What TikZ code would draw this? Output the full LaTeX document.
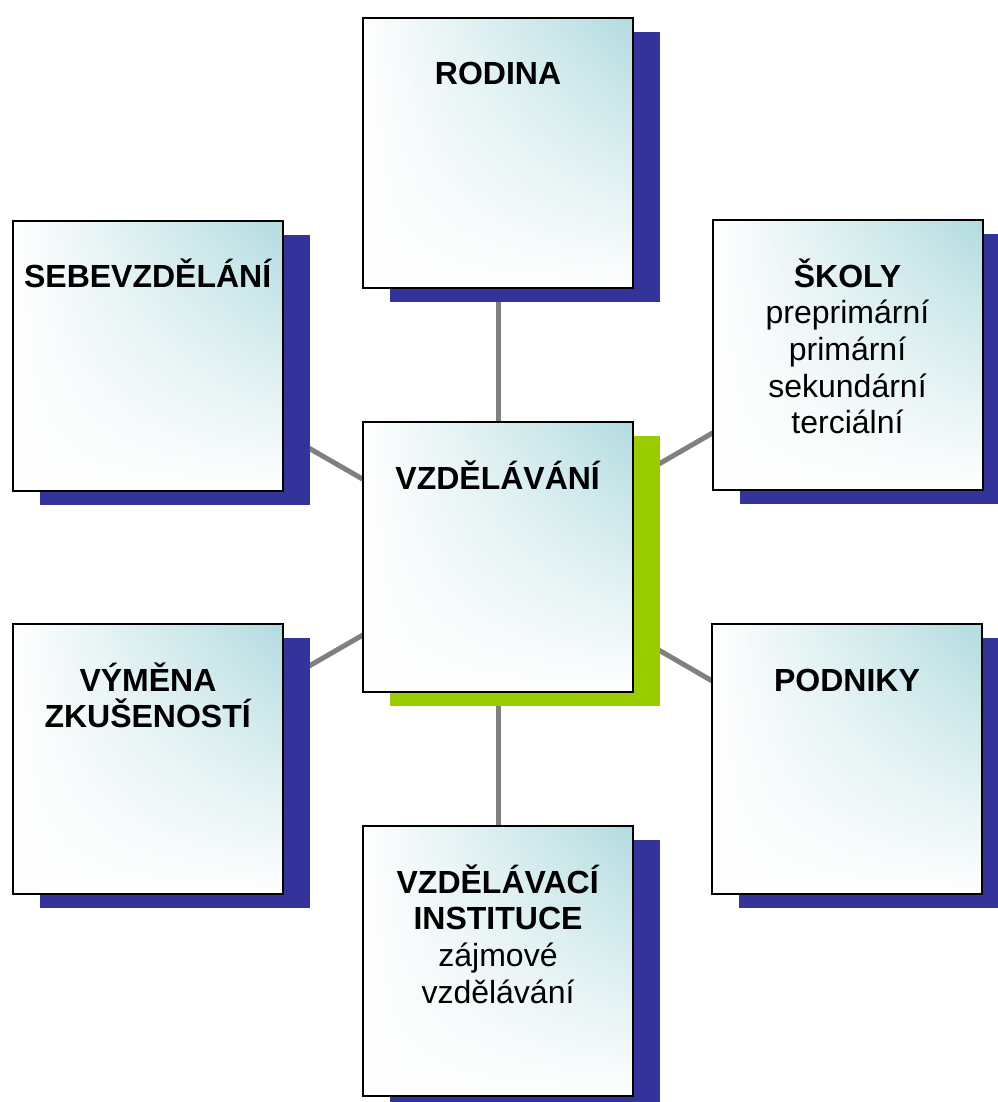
\documentclass[tikz,border=0pt]{standalone}
\usepackage{fontspec}
\setmainfont{Liberation Sans}
\usetikzlibrary{shadows,fadings,backgrounds}
\definecolor{stinmodra}{RGB}{51,51,153}
\definecolor{stinzelena}{RGB}{153,204,0}
\definecolor{tyrkys}{RGB}{178,220,224}
\definecolor{spojka}{RGB}{128,128,128}
\tikzfading[name=dolu, top color=transparent!0, bottom color=transparent!100]
\begin{document}
\begin{tikzpicture}[x=0.75pt, y=-0.75pt,
	box/.style={rectangle, draw=black, line width=1.5pt, inner sep=0pt,
		minimum width=202.5pt, minimum height=202.5pt,
		drop shadow={shadow xshift=20.25pt, shadow yshift=-10.5pt, fill=#1, opacity=1},
		preaction={fill=white},
		preaction={left color=white, right color=tyrkys, path fading=dolu}},
	box/.default=stinmodra,
	popis/.style={anchor=base, text width=195pt, align=center, inner sep=0pt,
		font=\fontsize{24}{27.5}\selectfont},
	spoj/.style={draw=spojka, line width=3.75pt}]
\clip (0,0) rectangle (998,1102);
\useasboundingbox (0,0) rectangle (998,1102);
% Kasty:
	\node[box] (rodina) at (498,153) {};
	\node[box=stinzelena] (vzd) at (498,557) {};
	\node[box] (sebe) at (148,355.5) {};
	\node[box] (skoly) at (847.5,355) {};
	\node[box] (vymena) at (148,759) {};
	\node[box] (podniky) at (847,759) {};
	\node[box] (instituce) at (498,961) {};
% Texty:
	\node[popis] (rodina-t) at ([yshift=-51pt]rodina.north) {\textbf{RODINA}};
	\node[popis] (vzd-t) at ([yshift=-51pt]vzd.north) {\textbf{VZDĚLÁVÁNÍ}};
	\node[popis] (sebe-t) at ([yshift=-51pt]sebe.north) {\textbf{SEBEVZDĚLÁNÍ}};
	\node[popis] (skoly-t) at ([yshift=-51pt]skoly.north) {\textbf{ŠKOLY}\\ preprimární\\ primární\\ sekundární\\ terciální};
	\node[popis] (vymena-t) at ([yshift=-51pt]vymena.north) {\textbf{VÝMĚNA}\\ \textbf{ZKUŠENOSTÍ}};
	\node[popis] (podniky-t) at ([yshift=-51pt]podniky.north) {\textbf{PODNIKY}};
	\node[popis] (instituce-t) at ([yshift=-51pt]instituce.north) {\textbf{VZDĚLÁVACÍ}\\ \textbf{INSTITUCE}\\ zájmové\\ vzdělávání};
% Spojky:
\begin{pgfonlayer}{background}
	\draw[spoj] (vzd.center) -- (rodina.center);
	\draw[spoj] (vzd.center) -- (sebe.center);
	\draw[spoj] (vzd.center) -- (skoly.center);
	\draw[spoj] (vzd.center) -- (vymena.center);
	\draw[spoj] (vzd.center) -- (podniky.center);
	\draw[spoj] (vzd.center) -- (instituce.center);
\end{pgfonlayer}
\end{tikzpicture}
\end{document}
